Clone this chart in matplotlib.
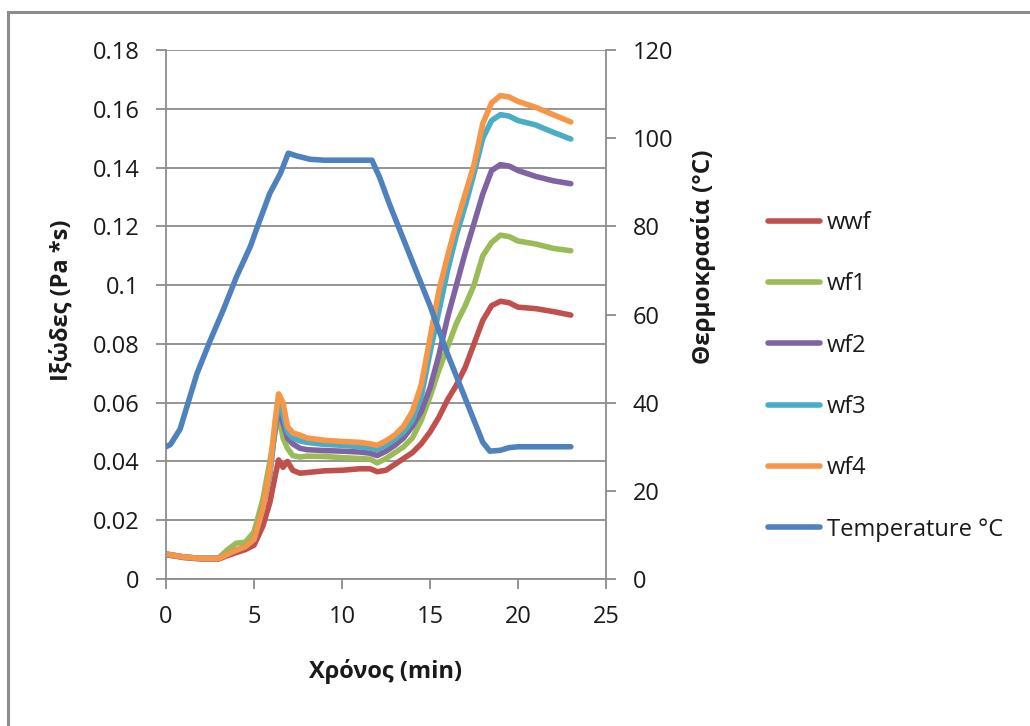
import matplotlib
matplotlib.use("Agg")
import matplotlib.pyplot as plt
from matplotlib.patches import Rectangle

plt.rcParams['font.family'] = ['Open Sans', 'DejaVu Sans']

# time axis shared by the viscosity curves (min)
t = [0, 0.5, 1, 2, 3, 3.5, 4, 4.5, 5, 5.5, 5.9, 6.2, 6.4, 6.65, 6.9, 7.2, 7.6, 8, 9, 10,
     11, 11.6, 12, 12.5, 13, 13.5, 14, 14.5, 15, 15.5, 16, 16.5, 17, 17.5, 18, 18.5, 19,
     19.5, 20, 21, 22, 23]

wwf = [0.0082, 0.0078, 0.0073, 0.0068, 0.0068, 0.008, 0.009, 0.010, 0.0115, 0.018, 0.026,
       0.035, 0.0405, 0.038, 0.040, 0.037, 0.036, 0.0362, 0.0368, 0.037, 0.0375, 0.0375,
       0.0365, 0.037, 0.039, 0.041, 0.043, 0.046, 0.050, 0.055, 0.061, 0.066, 0.072, 0.080,
       0.088, 0.093, 0.0945, 0.094, 0.0925, 0.092, 0.091, 0.0898]
wf1 = [0.0085, 0.008, 0.0075, 0.007, 0.0072, 0.010, 0.0122, 0.0125, 0.016, 0.027, 0.040,
       0.050, 0.056, 0.048, 0.0445, 0.042, 0.0415, 0.0418, 0.0417, 0.0413, 0.041, 0.0408,
       0.0395, 0.041, 0.043, 0.045, 0.048, 0.054, 0.062, 0.071, 0.079, 0.087, 0.093, 0.100,
       0.110, 0.1145, 0.117, 0.1165, 0.115, 0.114, 0.1125, 0.1117]
wf2 = [0.0085, 0.008, 0.0075, 0.007, 0.007, 0.0085, 0.0098, 0.011, 0.0135, 0.024, 0.036,
       0.051, 0.058, 0.053, 0.048, 0.046, 0.0445, 0.044, 0.0437, 0.0435, 0.0432, 0.0428,
       0.042, 0.0435, 0.0455, 0.048, 0.052, 0.057, 0.065, 0.076, 0.089, 0.100, 0.111, 0.121,
       0.131, 0.139, 0.141, 0.1405, 0.139, 0.137, 0.1355, 0.1345]
wf3 = [0.0085, 0.008, 0.0075, 0.007, 0.007, 0.0085, 0.0098, 0.011, 0.0135, 0.024, 0.036,
       0.052, 0.060, 0.056, 0.050, 0.048, 0.047, 0.0465, 0.0458, 0.0455, 0.045, 0.0445,
       0.044, 0.0455, 0.0475, 0.050, 0.054, 0.062, 0.077, 0.091, 0.105, 0.117, 0.127, 0.138,
       0.150, 0.156, 0.158, 0.1575, 0.156, 0.1545, 0.152, 0.1497]
wf4 = [0.0085, 0.008, 0.0075, 0.007, 0.007, 0.0085, 0.0098, 0.011, 0.0135, 0.024, 0.037,
       0.054, 0.063, 0.060, 0.052, 0.0497, 0.049, 0.048, 0.0472, 0.0468, 0.0465, 0.046,
       0.0455, 0.047, 0.049, 0.052, 0.057, 0.066, 0.082, 0.098, 0.110, 0.121, 0.131, 0.141,
       0.155, 0.162, 0.1645, 0.164, 0.1625, 0.1605, 0.158, 0.1555]

temp_t = [0, 0.25, 0.8, 1.75, 2.5, 3.25, 4, 4.8, 5.2, 5.9, 6.5, 6.95, 7.4, 8.2, 9, 10, 11,
          11.7, 12.15, 12.7, 13.3, 14, 15, 16, 17, 18, 18.4, 19, 19.5, 20, 21, 23]
temp = [30, 30.5, 34, 46.5, 54, 61, 68.5, 75.5, 80, 87.5, 92, 96.6, 96, 95.2, 95, 95, 95,
        95, 91, 85, 79, 72, 62, 51, 41, 31, 29, 29.2, 29.8, 30, 30, 30]

series = [("wwf", wwf, "#C0504D"), ("wf1", wf1, "#9BBB59"), ("wf2", wf2, "#8064A2"),
          ("wf3", wf3, "#4BACC6"), ("wf4", wf4, "#F79646")]

grid_col = "#8C8C8C"
txt_col = "#1A1A1A"

fig = plt.figure(figsize=(10.3, 7.26), dpi=100)
ax = fig.add_axes([166/1030, 1 - 579/726, 440/1030, 529/726])

for name, vals, col in series:
    ax.plot(t, vals, color=col, lw=4, label=name, solid_capstyle='round', solid_joinstyle='round')

ax.set_xlim(0, 25)
ax.set_ylim(0, 0.18)
ax.set_xticks([0, 5, 10, 15, 20, 25])
ax.set_yticks([0, 0.02, 0.04, 0.06, 0.08, 0.1, 0.12, 0.14, 0.16, 0.18])
ax.set_yticklabels(["0", "0.02", "0.04", "0.06", "0.08", "0.1", "0.12", "0.14", "0.16", "0.18"])
ax.yaxis.grid(True, color=grid_col, lw=1.3)
ax.set_axisbelow(True)
for s in ["top", "right"]:
    ax.spines[s].set_visible(False)
for s in ["left", "bottom"]:
    ax.spines[s].set_color(grid_col)
    ax.spines[s].set_linewidth(1.3)
ax.tick_params(axis='both', direction='out', length=7, width=1.3, color=grid_col,
               labelsize=17, labelcolor=txt_col, pad=12)

ax2 = ax.twinx()
ax2.plot(temp_t, temp, color="#4F81BD", lw=4, label="Temperature °C",
         solid_capstyle='round', solid_joinstyle='round')
ax2.set_ylim(0, 120)
ax2.set_yticks([0, 20, 40, 60, 80, 100, 120])
for s in ["top", "left", "bottom"]:
    ax2.spines[s].set_visible(False)
ax2.spines["right"].set_color(grid_col)
ax2.spines["right"].set_linewidth(1.3)
ax2.tick_params(axis='y', direction='out', length=7, width=1.3, color=grid_col,
                labelsize=17, labelcolor=txt_col, pad=12)

fig.text(62/1030, 1 - 300/726, "Ιξώδες (Pa *s)", rotation=90, ha='center', va='center',
         fontsize=17, fontweight='bold', color=txt_col)
fig.text(703/1030, 1 - 257/726, "Θερμοκρασία (°C)", rotation=90, ha='center', va='center',
         fontsize=17.5, fontweight='bold', color=txt_col)
fig.text(386/1030, 1 - 672/726, "Χρόνος (min)", ha='center', va='center',
         fontsize=17, fontweight='bold', color=txt_col)

h1, l1 = ax.get_legend_handles_labels()
h2, l2 = ax2.get_legend_handles_labels()
fig.legend(h1 + h2, l1 + l2, loc='upper left', bbox_to_anchor=(768/1030, 1 - 211/726),
           frameon=False, fontsize=17, handlelength=2.2, handletextpad=0.3,
           labelspacing=1.58, borderpad=0, borderaxespad=0, labelcolor=txt_col)

# outer chart frame (only top and left edges are inside the picture)
fig.patches.append(Rectangle((8/1030, -0.1), 1.2, 1 - 12/726 + 0.1, transform=fig.transFigure,
                             fill=False, edgecolor="#8C8C8C", lw=2.2))

fig.savefig("out.png", dpi=100)
